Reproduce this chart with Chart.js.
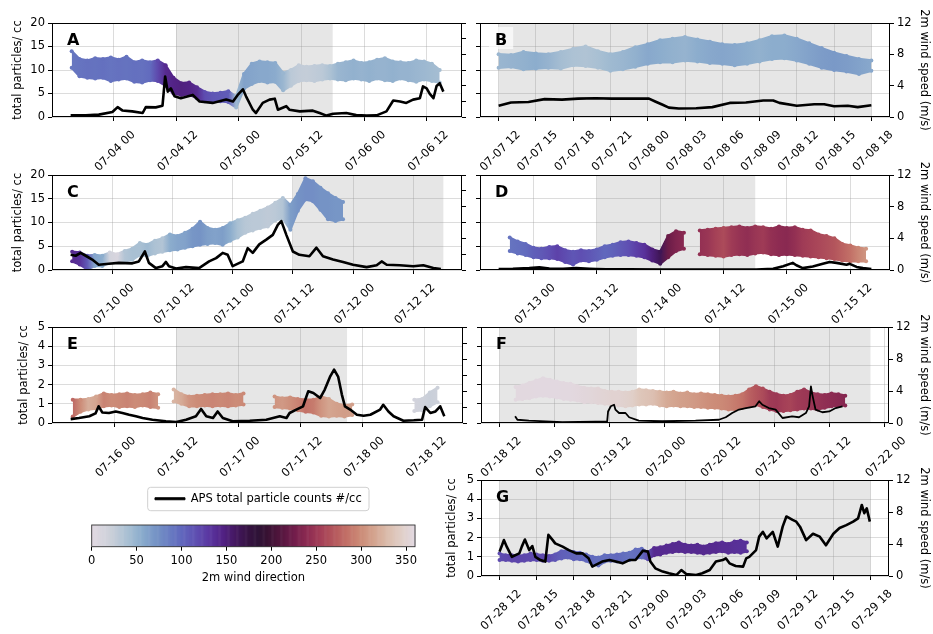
<!DOCTYPE html>
<html><head><meta charset="utf-8">
<script src="https://cdn.jsdelivr.net/npm/chart.js@4.4.1/dist/chart.umd.min.js"></script>
<style>
html,body{margin:0;padding:0;background:#fff;}
body{position:relative;width:933px;height:634px;overflow:hidden;}
canvas{position:absolute;}
</style></head><body>
<script>
// ---------------- DATA (times in hours since 07-01 00:00) ----------------
const LEFT_TITLE = 'total particles/ cc';
const RIGHT_TITLE = '2m wind speed (m/s)';
const LEGEND_LABEL = 'APS total particle counts #/cc';
const CB_TITLE = '2m wind direction';
const cbTicks = [0, 50, 100, 150, 200, 250, 300, 350];

const ticksA = ['07-04 00','07-04 12','07-05 00','07-05 12','07-06 00','07-06 12'];
const ticksB = ['07-07 12','07-07 15','07-07 18','07-07 21','07-08 00','07-08 03','07-08 06','07-08 09','07-08 12','07-08 15','07-08 18'];
const ticksC = ['07-10 00','07-10 12','07-11 00','07-11 12','07-12 00','07-12 12'];
const ticksD = ['07-13 00','07-13 12','07-14 00','07-14 12','07-15 00','07-15 12'];
const ticksE = ['07-16 00','07-16 12','07-17 00','07-17 12','07-18 00','07-18 12'];
const ticksF = ['07-18 12','07-19 00','07-19 12','07-20 00','07-20 12','07-21 00','07-21 12','07-22 00'];
const ticksG = ['07-28 12','07-28 15','07-28 18','07-28 21','07-29 00','07-29 03','07-29 06','07-29 09','07-29 12','07-29 15','07-29 18'];

const shadeA = [['07-04 12','07-05 18']];
const shadeB = [['07-07 12','07-08 18']];
const shadeC = [['07-11 12','07-12 18']];
const shadeD = [['07-13 12','07-14 18']];
const shadeE = [['07-16 12','07-17 21']];
const shadeF = [['07-18 12','07-19 18'],['07-20 12','07-21 21']];
const shadeG = [['07-28 12','07-29 18']];

// APS total particle counts (#/cc), left axis
const apsA_t = [63.8,66.7,69.2,71.8,72.8,73.7,75.6,77.6,78.2,80.1,81.4,81.9,82.4,83.0,83.7,84.9,87.2,88.5,91.0,93.6,94.9,95.8,96.8,97.4,98.7,99.3,100.6,101.9,102.9,103.5,105.1,105.7,107.7,110.2,111.5,112.8,114.1,116.6,118.5,120.5,122.4,124.3,125.6,126.9,128.1,129.4,130.7,131.3,132.0,132.6,133.3,133.9,134.5,135.2];
const apsA_v = [0.35,0.35,0.5,1.05,2.1,1.4,1.2,0.85,2.1,2.05,2.4,8.6,5.4,6.1,4.4,4.0,4.7,3.3,3.0,3.7,3.3,4.7,5.9,4.4,1.55,0.85,3.0,3.7,3.9,1.55,2.3,1.55,1.2,1.35,0.85,0.3,0.7,0.85,0.4,0.3,0.35,1.2,3.5,3.3,3.0,3.7,4.0,6.5,6.1,4.9,4.0,6.6,7.2,5.4];
const apsB_t = [156,157,158.4,159.7,161.1,162.4,163.8,165.1,166.5,168.1,168.6,169.2,169.7,170.5,171.9,173.2,174.6,175.9,177.3,178.1,178.6,180,181.4,182.2,183,184.1,184.9,186];
const apsB_v = [2.4,3.1,3.2,3.8,3.7,3.9,4.0,3.9,3.9,3.9,3.3,2.6,2.0,1.8,1.85,2.1,3.0,3.1,3.5,3.5,3.0,2.4,2.7,2.7,2.3,2.4,2.1,2.5];
const apsC_t = [207.7,208.7,209.7,210.7,212,213.3,215.3,217.3,220,221.3,222.5,223.3,224.7,226,226.7,227.3,228.7,230.7,233.3,235.3,236.7,238,239,240,242,243,244,245.3,246.7,248,249,249.7,250.7,252,253.3,255.3,256.7,258,260,262,264,266.7,268.7,269.7,270.7,273.3,276,278,280,281.5];
const apsC_v = [3.2,3.0,3.6,3.0,2.2,1.1,1.3,1.5,1.4,1.8,3.9,1.5,0.4,0.8,1.7,0.8,0.3,0.6,0.4,1.8,2.5,3.6,3.2,0.8,1.8,4.6,3.6,5.4,6.4,7.4,9.5,10.3,7.4,3.9,3.2,2.9,4.7,2.9,2.2,1.7,1.1,0.6,1.0,1.8,1.1,1.0,0.8,1.0,0.4,0.2];
const apsD_t = [281.4,284.1,287.2,289.1,291,293.6,296.1,298.6,299.9,301.8,306.2,312.5,318.8,325.1,330.2,333.4,335.3,337.1,337.8,339,340.9,342.8,344.1,345.4,347.3,347.9,349.2,350.4,352];
const apsD_v = [0.2,0.25,0.4,0.55,0.3,0.25,0.4,0.25,0.2,0.15,0.15,0.1,0.1,0.1,0.1,0.25,0.8,1.5,1.0,0.4,0.75,1.3,1.7,1.5,1.1,1.3,0.65,0.4,0.2];
const apsE_t = [351.6,353.2,355.2,356.4,357.0,357.7,359.0,360.3,361.6,362.9,364.2,365.5,367.4,370.0,372.0,373.9,375.8,376.8,377.8,379.1,380.0,381.0,382.9,386.2,389.4,392.0,393.3,393.9,395.2,396.5,397.5,398.5,399.8,400.7,401.7,402.5,403.3,404.0,404.6,405.6,406.9,408.2,409.5,411.4,412.0,413.0,414.0,415.9,417.9,419.5,420.1,421.1,422.1,423.0,423.8];
const apsE_v = [0.2,0.26,0.35,0.5,0.87,0.55,0.52,0.6,0.52,0.43,0.35,0.26,0.17,0.09,0.05,0.17,0.35,0.73,0.35,0.26,0.6,0.26,0.09,0.12,0.17,0.35,0.26,0.52,0.7,0.87,1.65,1.56,1.3,1.74,2.4,2.78,2.4,1.48,0.87,0.7,0.43,0.38,0.43,0.7,0.95,0.6,0.35,0.12,0.14,0.17,0.83,0.52,0.6,0.87,0.35];
const apsF_t = [423.4,423.9,426.4,430.1,433.7,441.0,443.5,443.7,444.3,445.0,445.3,446.1,447.5,448.3,450.4,455.5,462.8,467.9,469.4,470.8,472.3,473.8,475.9,476.7,477.4,478.8,480.3,481.8,483.9,485.4,486.9,487.6,488.0,488.3,489.0,490.5,492.0,493.4,494.9];
const apsF_v = [0.35,0.17,0.12,0.08,0.05,0.07,0.08,0.6,0.87,0.95,0.7,0.52,0.52,0.3,0.12,0.09,0.12,0.17,0.3,0.52,0.7,0.78,0.87,1.13,0.95,0.78,0.7,0.26,0.35,0.3,0.52,0.87,1.9,1.48,0.7,0.56,0.6,0.78,0.87];
const apsG_t = [660,660.2,660.35,660.6,661.0,661.6,661.8,662.05,662.4,662.65,662.9,663.3,663.7,663.95,664.3,664.5,665.1,665.6,666.2,666.7,667.2,667.5,668.3,668.9,669.4,669.95,670.5,671.0,671.6,672.0,672.2,672.6,673.2,673.7,674.3,674.7,675.1,675.9,676.4,677.0,677.5,678.05,678.3,678.6,679.1,679.7,679.95,680.2,680.75,681.0,681.3,681.6,682.1,682.5,682.9,683.2,683.7,684.0,684.3,684.8,685.35,685.9,686.4,687.0,687.5,688.05,688.6,689.0,689.3,689.5,689.7,689.95];
const apsG_v = [1.27,1.6,1.87,1.5,1.0,1.18,1.53,1.9,1.35,1.56,1.0,0.83,0.75,2.14,1.87,1.7,1.53,1.35,1.18,1.18,0.92,0.49,0.75,0.83,0.75,0.66,0.83,0.83,1.32,1.27,0.75,0.4,0.23,0.14,0.05,0.31,0.1,0.05,0.14,0.31,0.75,0.83,0.92,0.66,0.52,0.49,0.92,1.0,1.35,2.05,2.3,1.96,2.3,1.53,2.57,3.1,2.92,2.83,2.57,1.87,2.2,2.05,1.6,2.2,2.5,2.65,2.83,3.0,3.7,3.27,3.52,2.83];

// 2 m wind speed band (m/s, right axis): time, low, high, wind direction (deg)
const windA_t = [64,65.5,67,68.5,70,71.5,73,74.5,76,77.5,79,80.5,82,83.5,85,86.5,88,89.5,91,92.5,94,95.5,97,98.5,100,101.5,103,104.5,106,107.5,109,110.5,112,113.5,115,116.5,118,119.5,121,122.5,124,125.5,127,128.5,130,131.5,133,134.5];
const windA_lo = [6.3,5.2,5.0,4.9,5.0,4.6,4.8,4.9,4.5,4.4,4.7,4.6,4.0,3.0,2.8,2.9,2.4,2.0,1.9,2.0,1.9,1.2,3.6,4.2,4.6,4.4,4.5,3.4,4.0,4.6,4.7,4.6,4.8,4.9,4.8,4.7,4.9,4.8,4.6,4.9,4.7,4.6,4.9,4.7,4.5,4.8,4.6,4.4];
const windA_hi = [8.4,7.4,7.2,7.5,7.4,7.6,7.3,7.7,7.0,7.2,7.0,7.2,6.6,5.0,4.3,4.4,3.8,3.2,3.0,3.1,3.3,2.6,5.5,6.8,7.1,7.0,6.9,5.6,6.0,6.6,6.4,6.5,6.6,6.5,6.8,7.0,7.2,6.9,7.0,7.3,7.5,7.1,7.0,6.9,7.2,7.1,6.8,6.0];
const windA_dir = [90,92,94,93,95,92,94,93,95,94,98,120,140,145,148,146,140,118,112,110,108,45,62,60,58,58,56,48,30,26,25,27,30,38,48,50,52,50,52,50,50,52,50,50,48,46,44,42];

const windB_t = [156,157,158,159,160,161,162,163,164,165,166,167,168,169,170,171,172,173,174,175,176,177,178,179,180,181,182,183,184,185,186];
const windB_lo = [6.3,6.4,6.1,6.2,6.3,6.2,6.6,6.5,6.3,5.9,6.1,6.4,6.8,7.0,7.0,7.2,7.1,6.9,6.8,6.6,6.8,7.1,7.4,7.5,7.2,6.8,6.3,6.0,5.8,5.5,5.9];
const windB_hi = [8.0,7.9,8.3,8.1,8.0,8.3,8.7,9.0,8.4,8.0,8.3,8.9,9.3,9.8,10.0,10.2,9.9,9.6,9.3,9.2,9.4,9.8,10.3,10.4,10.0,9.4,8.8,8.2,7.8,7.4,7.2];
const windB_dir = [48,50,52,55,50,42,38,36,40,45,48,52,58,55,52,50,55,58,60,58,55,52,55,55,58,62,66,68,66,62,58];

const windC_t = [208,209.5,211,212.5,214,215.5,217,218.5,220,221.5,223,224.5,226,227.5,229,230.5,232,233.5,235,236.5,238,239.5,241,242.5,244,245.5,247,248.5,250,251.5,253,254.5,256,257.5,259,260.5,262];
const windC_lo = [1.1,0.7,0.1,0.5,0.5,0.9,1.0,1.1,1.3,1.9,1.8,2.1,2.3,2.5,2.6,2.8,3.0,3.2,3.3,3.4,3.2,3.7,4.1,4.7,5.0,5.3,5.5,6.3,6.5,5.1,7.5,8.9,8.7,7.6,6.4,6.2,6.4];
const windC_hi = [2.3,2.2,1.8,1.9,1.8,2.2,2.0,2.4,2.7,3.4,3.2,3.7,4.0,4.5,4.3,4.7,5.2,6.1,5.3,5.1,5.3,5.9,6.3,6.6,7.1,7.5,7.9,8.5,9.1,8.2,9.6,11.6,11.2,10.4,9.7,9.1,8.6];
const windC_dir = [140,135,110,60,55,15,10,35,40,40,45,38,35,55,60,62,70,72,65,62,65,55,40,32,30,30,28,30,35,65,72,75,75,72,72,70,70];

const windD_t = [283.5,285,286.5,288,289.5,291,292.5,294,295.5,297,298.5,300,301.5,303,304.5,306,307.5,309,310.5,312,313.5,315,316.5,318,319.5,321,322.5,324,325.5,327,328.5,330,331.5,333,334.5,336,337.5,339,340.5,342,343.5,345,346.5,348,349.5,351];
const windD_lo = [2.4,2.1,1.9,1.6,1.5,1.5,1.4,1.0,0.7,1.2,1.1,1.3,1.6,1.8,1.9,1.9,1.8,1.6,1.2,0.8,1.6,2.4,2.7,null,2.0,1.9,1.8,1.7,1.9,2.0,1.9,2.1,2.2,2.0,1.9,2.0,1.9,1.8,1.7,1.6,1.5,1.4,1.2,1.1,1.1,1.1];
const windD_hi = [4.1,3.6,3.3,2.8,2.7,2.9,3.0,2.5,2.3,2.5,2.4,2.6,3.0,3.2,3.5,3.6,3.4,3.2,2.6,2.3,4.3,4.9,4.7,null,5.0,5.1,5.2,5.3,5.4,5.5,5.3,5.5,5.4,5.2,5.5,5.3,5.4,5.1,5.0,4.5,4.3,4.0,3.3,3.1,2.8,2.7];
const windD_dir = [92,95,98,106,110,116,124,118,112,116,112,106,100,104,110,116,126,134,150,165,222,232,238,240,244,248,256,262,252,246,242,248,252,244,240,238,244,252,256,260,264,268,276,284,296,306];

const windE_t = [352,353.5,355,356.5,358,359.5,361,362.5,364,365.5,367,368.5,370,371.5,373,374.5,376,377.5,379,380.5,382,383.5,385,386.5,388,389.5,391,392.5,394,395.5,397,398.5,400,401.5,403,404.5,406,407.5,409,410.5,412,413.5,415,416.5,418,419.5,421,422.5];
const windE_lo = [0.8,1.4,1.7,1.8,2.1,2.2,2.0,2.1,2.0,2.2,2.0,1.9,null,2.7,2.4,2.1,2.1,2.2,2.1,2.2,2.1,2.2,2.3,null,null,null,2.0,1.9,1.8,1.6,1.4,1.3,0.9,0.8,0.9,0.8,1.0,null,null,null,null,null,null,null,1.5,1.6,2.1,2.6];
const windE_hi = [2.9,2.9,3.0,3.3,3.7,3.5,3.6,3.7,3.5,3.6,3.8,3.6,null,4.2,3.6,3.3,3.4,3.5,3.6,3.6,3.7,3.5,3.7,null,null,null,3.3,3.1,3.2,3.0,2.9,2.9,3.3,3.0,2.4,2.2,2.3,null,null,null,null,null,null,null,2.9,3.0,3.8,4.4];
const windE_dir = [280,300,320,315,295,300,298,295,300,298,295,305,0,325,318,305,300,298,296,298,296,300,298,0,0,0,305,308,302,295,285,290,305,315,312,310,312,0,0,0,0,0,0,0,15,18,22,20];

const windF_t = [423.5,425,426.5,428,429.5,431,432.5,434,435.5,437,438.5,440,441.5,443,444.5,446,447.5,449,450.5,452,453.5,455,456.5,458,459.5,461,462.5,464,465.5,467,468.5,470,471.5,473,474.5,476,477.5,479,480.5,482,483.5,485,486.5,488,489.5,491,492.5,494,495.5];
const windF_lo = [2.9,3.0,3.1,3.3,3.4,3.3,3.2,3.0,2.9,2.8,2.6,2.6,2.5,2.4,2.3,2.2,2.1,2.2,2.3,2.3,2.4,2.2,2.1,2.2,2.1,2.1,2.0,2.0,1.9,1.9,1.8,1.7,1.7,1.9,2.1,2.3,2.0,1.7,1.5,1.5,1.6,1.7,1.8,1.8,1.7,1.9,2.1,2.2,2.2];
const windF_hi = [4.5,4.7,5.0,5.3,5.6,5.4,5.2,5.0,4.9,4.6,4.4,4.3,4.3,4.0,3.9,3.9,3.8,3.9,4.2,4.1,4.0,3.9,3.8,3.9,3.7,3.8,3.6,3.7,3.6,3.5,3.4,3.3,3.4,3.6,4.2,4.6,4.3,3.9,3.6,3.4,3.5,3.9,4.2,3.8,3.6,3.5,3.7,3.6,3.4];
const windF_dir = [358,358,358,359,359,359,359,358,358,357,356,355,353,352,350,350,348,345,338,335,332,325,318,315,312,310,308,305,302,300,298,295,290,285,275,268,262,252,250,255,258,252,250,248,245,242,240,238,236];

const windG_t = [660,660.5,661,661.5,662,662.5,663,663.5,664,664.5,665,665.5,666,666.5,667,667.5,668,668.5,669,669.5,670,670.5,671,671.5,672,672.5,673,673.5,674,674.5,675,675.5,676,676.5,677,677.5,678,678.5,679,679.5,680];
const windG_lo = [2.0,2.0,1.9,1.8,1.9,2.0,2.0,1.9,1.9,2.0,2.2,2.3,2.1,2.1,1.9,1.5,1.3,1.8,1.9,1.8,1.9,2.0,2.2,2.3,2.1,2.6,2.7,2.9,3.0,3.1,3.0,3.0,2.9,2.8,2.9,3.0,3.1,2.9,3.0,2.9,3.1];
const windG_hi = [2.8,2.6,2.6,2.5,2.6,2.8,2.7,2.6,2.5,2.7,3.1,3.2,3.0,2.9,2.7,2.4,2.3,2.6,2.6,2.7,2.8,2.9,3.3,3.4,3.0,3.5,3.6,3.8,4.0,4.2,3.9,3.8,3.9,3.7,3.9,4.1,4.2,4.0,4.3,4.4,4.2];
const windG_dir = [118,120,122,122,121,120,118,120,118,112,106,104,104,102,100,98,96,96,98,100,96,94,96,98,118,140,140,140,140,140,140,140,140,140,140,140,138,138,136,135,135];

// twilight colour map stops (degrees -> colour)
const TWILIGHT = [[0,'#e2d9e2'],[20,'#cdd1da'],[40,'#a9c0d3'],[55,'#8cadcd'],[70,'#7796c6'],[85,'#6a7fc2'],[100,'#6168bd'],[115,'#5f51b3'],[130,'#5b38a2'],[145,'#532387'],[160,'#441860'],[175,'#361342'],[185,'#2f1337'],[195,'#381233'],[210,'#53163e'],[225,'#711d4b'],[240,'#8d2b52'],[255,'#a43f57'],[270,'#b5585d'],[285,'#c37268'],[300,'#cc8c78'],[315,'#d4a590'],[330,'#dbbdad'],[345,'#e0cfc8'],[360,'#e2d9e2']];

// ---------------- RENDERING ----------------
const FS = 11.5, LH = FS * 1.2;
Chart.defaults.font.family = "'DejaVu Sans', sans-serif";
Chart.defaults.font.size = FS;
Chart.defaults.color = '#000';
const GRID = 'rgba(150,150,150,0.42)';
const SHADE = 'rgba(128,128,128,0.2)';

function stamp(s){ return (parseInt(s.slice(3,5),10)-1)*24 + parseInt(s.slice(6,8),10); }
function hex2rgb(h){ return [1,3,5].map(i=>parseInt(h.slice(i,i+2),16)); }
function twilight(d){
  d = ((d % 360) + 360) % 360;
  for (let i=0;i<TWILIGHT.length-1;i++){
    const [a,ca]=TWILIGHT[i], [b,cb]=TWILIGHT[i+1];
    if (d>=a && d<=b){
      const f=(d-a)/(b-a), A=hex2rgb(ca), B=hex2rgb(cb);
      return 'rgb('+A.map((v,k)=>Math.round(v+(B[k]-v)*f)).join(',')+')';
    }
  }
  return TWILIGHT[0][1];
}

const PANELS = [
 {letter:'A', l:52,t:23,r:462,b:117, yMax:20,yStep:5, LW:52,RW:8, leftLab:true,rightLab:false, ltPad:11.4, rtPad:0, apsT:apsA_t, apsV:apsA_v, wT:windA_t, wLo:windA_lo, wHi:windA_hi, wD:windA_dir, ticks:ticksA, shade:shadeA, lw:2.6, box:false},
 {letter:'B', l:480,t:23,r:890,b:117, yMax:20,yStep:5, LW:8,RW:43, leftLab:false,rightLab:true, ltPad:0, rtPad:2.1, apsT:apsB_t, apsV:apsB_v, wT:windB_t, wLo:windB_lo, wHi:windB_hi, wD:windB_dir, ticks:ticksB, shade:shadeB, lw:2.6, box:true},
 {letter:'C', l:52,t:175,r:462,b:270, yMax:20,yStep:5, LW:52,RW:8, leftLab:true,rightLab:false, ltPad:11.4, rtPad:0, apsT:apsC_t, apsV:apsC_v, wT:windC_t, wLo:windC_lo, wHi:windC_hi, wD:windC_dir, ticks:ticksC, shade:shadeC, lw:2.6, box:false},
 {letter:'D', l:480,t:175,r:890,b:270, yMax:20,yStep:5, LW:8,RW:43, leftLab:false,rightLab:true, ltPad:0, rtPad:2.1, apsT:apsD_t, apsV:apsD_v, wT:windD_t, wLo:windD_lo, wHi:windD_hi, wD:windD_dir, ticks:ticksD, shade:shadeD, lw:2.6, box:false},
 {letter:'E', l:52,t:327,r:463,b:423, yMax:5,yStep:1, LW:52,RW:8, leftLab:true,rightLab:false, ltPad:17.1, rtPad:0, apsT:apsE_t, apsV:apsE_v, wT:windE_t, wLo:windE_lo, wHi:windE_hi, wD:windE_dir, ticks:ticksE, shade:shadeE, lw:2.6, box:false},
 {letter:'F', l:481,t:327,r:889,b:423, yMax:5,yStep:1, LW:8,RW:43, leftLab:false,rightLab:true, ltPad:0, rtPad:1.1, apsT:apsF_t, apsV:apsF_v, wT:windF_t, wLo:windF_lo, wHi:windF_hi, wD:windF_dir, ticks:ticksF, shade:shadeF, lw:1.8, box:false},
 {letter:'G', l:481,t:480,r:889,b:576, yMax:5,yStep:1, LW:45,RW:43, leftLab:true,rightLab:true, ltPad:9.1, rtPad:1.1, apsT:apsG_t, apsV:apsG_v, wT:windG_t, wLo:windG_lo, wHi:windG_hi, wD:windG_dir, ticks:ticksG, shade:shadeG, lw:2.6, box:false}
];

function xRange(p){
  let lo = Math.min(...p.apsT), hi = Math.max(...p.apsT);
  p.shade.forEach(([s,e])=>{ lo=Math.min(lo,stamp(s)); hi=Math.max(hi,stamp(e)); });
  const m = (hi-lo)*0.05;
  return [lo-m, hi+m];
}

function makeCanvas(left, top, w, h){
  const cv = document.createElement('canvas');
  cv.width = w; cv.height = h;
  cv.style.left = left+'px'; cv.style.top = top+'px';
  cv.style.width = w+'px'; cv.style.height = h+'px';
  document.body.appendChild(cv);
  return cv;
}

function buildPanel(p){
  const BH = 60, T = 30;
  const W = p.LW + (p.r-p.l) + p.RW, H = T + (p.b-p.t) + BH;
  const cv = makeCanvas(p.l-p.LW, p.t-T, W, H);
  const [xmin, xmax] = xRange(p);
  const tickVals = p.ticks.map(stamp);
  const lineData = p.apsT.map((t,i)=>({x:t, y:p.apsV[i]}));
  const hiData = p.wT.map((t,i)=>({x:t, y:p.wHi[i]}));
  const loData = p.wT.map((t,i)=>({x:t, y:p.wLo[i]}));
  const first = twilight(p.wD[0]);
  // horizontal gradient following the wind direction of each sample
  const dirGradient = (c)=>{
    const chart = c.chart, a = chart.chartArea;
    if (!a || !chart.scales.x) return first;
    const x = chart.scales.x;
    const g = chart.ctx.createLinearGradient(a.left, 0, a.right, 0);
    p.wT.forEach((t,i)=>{
      if (p.wLo[i] == null) return;
      const f = Math.min(1, Math.max(0, (x.getPixelForValue(t)-a.left)/(a.right-a.left)));
      g.addColorStop(f, twilight(p.wD[i]));
    });
    return g;
  };
  const ptCol = (c)=> twilight(p.wD[c.dataIndex] || 0);

  const decor = {
    id:'decor'+p.letter,
    beforeDraw(chart){
      const {ctx, chartArea:a, scales:{x}} = chart;
      ctx.save();
      ctx.fillStyle = SHADE;
      p.shade.forEach(([s,e])=>{
        const x0 = Math.max(a.left, x.getPixelForValue(stamp(s)));
        const x1 = Math.min(a.right, x.getPixelForValue(stamp(e)));
        ctx.fillRect(x0, a.top, x1-x0, a.bottom-a.top);
      });
      ctx.restore();
    },
    afterDatasetsDraw(chart){
      const {ctx, chartArea:a} = chart;
      ctx.save();
      ctx.strokeStyle = '#000'; ctx.lineWidth = 1;
      ctx.strokeRect(Math.round(a.left)+0.5, Math.round(a.top)+0.5, Math.round(a.right-a.left)-1, Math.round(a.bottom-a.top)-1);
      ctx.font = "bold 16px 'DejaVu Sans', sans-serif";
      ctx.textBaseline = 'alphabetic';
      const lx = a.left + 15, ly = a.top + 22;
      const w = ctx.measureText(p.letter).width;
      if (p.box){
        ctx.fillStyle = 'rgba(255,255,255,0.7)';
        ctx.fillRect(lx-6, a.top+4, w+12, 22);
      }
      ctx.fillStyle = '#000';
      ctx.fillText(p.letter, lx, ly);
      ctx.restore();
    }
  };

  new Chart(cv, {
    type:'line',
    data:{datasets:[
      {label:LEGEND_LABEL, data:lineData, xAxisID:'x', yAxisID:'yL', borderColor:'#000', backgroundColor:'#000', borderWidth:p.lw, pointRadius:0, tension:0, borderJoinStyle:'round', fill:false, order:0},
      {label:'wind high', data:hiData, xAxisID:'x', yAxisID:'yR', borderColor:dirGradient, backgroundColor:dirGradient, borderWidth:2.5, borderJoinStyle:'round', borderCapStyle:'round', pointRadius:2, pointBorderWidth:0, pointBackgroundColor:ptCol, tension:0, spanGaps:false, fill:'+1', order:1},
      {label:'wind low', data:loData, xAxisID:'x', yAxisID:'yR', borderColor:dirGradient, backgroundColor:dirGradient, borderWidth:2.5, borderJoinStyle:'round', borderCapStyle:'round', pointRadius:2, pointBorderWidth:0, pointBackgroundColor:ptCol, tension:0, spanGaps:false, fill:false, order:2}
    ]},
    options:{
      animation:false, responsive:false, devicePixelRatio:1, events:[],
      layout:{padding:{top:T, left:0, right:0, bottom:0}},
      plugins:{legend:{display:false}, tooltip:{enabled:false}, filler:{propagate:false}},
      scales:{
        x:{type:'linear', position:'bottom', min:xmin, max:xmax, offset:false,
           grid:{offset:false, color:GRID, lineWidth:0.8, tickColor:'#000', tickLength:4, tickWidth:1},
           border:{display:false},
           ticks:{autoSkip:false, maxRotation:45, minRotation:45, padding:7, labelOffset:20, callback:(v,i)=>p.ticks[i]},
           afterBuildTicks:(s)=>{ s.ticks = tickVals.map(v=>({value:v})); },
           afterFit:(s)=>{ s.height = BH; s.paddingLeft = 0; s.paddingRight = 0; }},
        yL:{type:'linear', position:'left', min:0, max:p.yMax,
           grid:{color:GRID, lineWidth:0.8, tickColor:'#000', tickLength:4, tickWidth:1},
           border:{display:false},
           ticks:{stepSize:p.yStep, display:p.leftLab, padding:3},
           title:{display:p.leftLab, text:LEFT_TITLE, padding:{top:p.ltPad, bottom:0}, font:{size:FS}},
           afterFit:(s)=>{ s.width = p.LW; s.paddingTop = 0; s.paddingBottom = 0; }},
        yR:{type:'linear', position:'right', min:0, max:12,
           grid:{drawOnChartArea:false, tickColor:'#000', tickLength:4, tickWidth:1},
           border:{display:false},
           ticks:{stepSize:2, display:p.rightLab, padding:3},
           title:{display:p.rightLab, text:RIGHT_TITLE, padding:{top:p.rtPad, bottom:0}, font:{size:FS}},
           afterFit:(s)=>{ s.width = p.RW; s.paddingTop = 0; s.paddingBottom = 0; }}
      }
    },
    plugins:[decor]
  });
}

function buildColorbar(){
  const W = 380, H = 125;
  const cv = makeCanvas(70, 475, W, H);
  const cb = {
    id:'cb',
    afterDraw(chart){
      const {ctx, chartArea:a, scales:{x}} = chart;
      ctx.save();
      for (let d=0; d<360; d++){
        const x0 = x.getPixelForValue(d), x1 = x.getPixelForValue(d+1);
        ctx.fillStyle = twilight(d+0.5);
        ctx.fillRect(x0, a.top, x1-x0+0.6, a.bottom-a.top);
      }
      ctx.strokeStyle = '#333'; ctx.lineWidth = 0.9;
      ctx.strokeRect(a.left, a.top, a.right-a.left, a.bottom-a.top);
      const hb = chart.legend.legendHitBoxes[0];
      if (hb){
        const L = hb.left-7.3, R = hb.left+hb.width+7.3, Tp = hb.top-5.7, B = hb.top+hb.height+6.2, r = 3;
        ctx.beginPath();
        ctx.moveTo(L+r, Tp); ctx.lineTo(R-r, Tp); ctx.arcTo(R, Tp, R, Tp+r, r);
        ctx.lineTo(R, B-r); ctx.arcTo(R, B, R-r, B, r);
        ctx.lineTo(L+r, B); ctx.arcTo(L, B, L, B-r, r);
        ctx.lineTo(L, Tp+r); ctx.arcTo(L, Tp, L+r, Tp, r);
        ctx.closePath();
        ctx.strokeStyle = '#d0d0d0'; ctx.lineWidth = 1; ctx.stroke();
      }
      ctx.restore();
    }
  };
  new Chart(cv, {
    type:'line',
    data:{datasets:[{label:LEGEND_LABEL, data:[], borderColor:'#000', backgroundColor:'#000', borderWidth:1}]},
    options:{
      animation:false, responsive:false, devicePixelRatio:1, events:[],
      layout:{padding:{left:21.7, right:25, top:10, bottom:0}},
      plugins:{
        legend:{display:true, position:'top', align:'center',
          labels:{boxWidth:30, boxHeight:2, padding:8, color:'#000', font:{size:FS}}},
        tooltip:{enabled:false}
      },
      scales:{
        x:{type:'linear', position:'bottom', min:0, max:360,
           grid:{drawOnChartArea:false, tickColor:'#000', tickLength:4, tickWidth:1},
           border:{display:false},
           ticks:{padding:3, maxRotation:0, autoSkip:false},
           afterBuildTicks:(s)=>{ s.ticks = cbTicks.map(v=>({value:v})); },
           title:{display:true, text:CB_TITLE, padding:{top:0, bottom:15.1}, font:{size:FS}},
           afterFit:(s)=>{ s.height = 53.3; s.paddingLeft = 0; s.paddingRight = 0; }},
        xs:{type:'linear', position:'top', grid:{display:false}, ticks:{display:false}, border:{display:false},
           afterFit:(s)=>{ s.height = 10.5; }},
        y:{display:false},
        ys:{type:'linear', position:'right', grid:{display:false}, ticks:{display:false}, border:{display:false},
           afterFit:(s)=>{ s.width = 10; }}
      }
    },
    plugins:[cb]
  });
}

PANELS.forEach(buildPanel);
buildColorbar();
</script>
</body></html>
